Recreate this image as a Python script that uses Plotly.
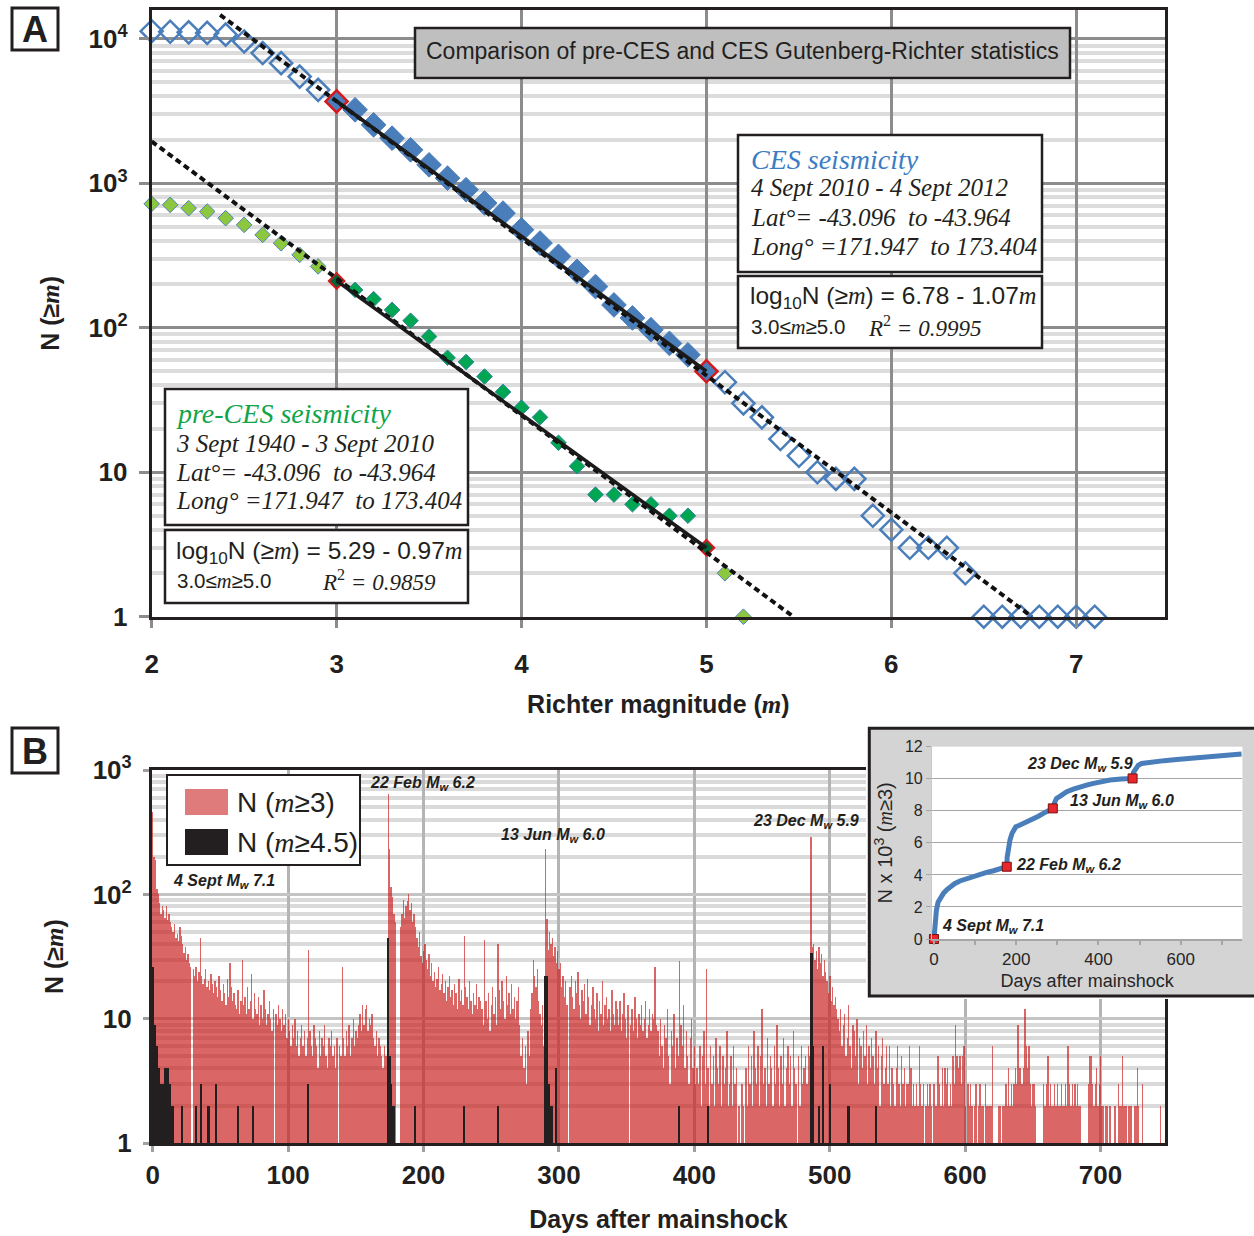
import math
import plotly.graph_objects as go

W, H = 1254, 1236

# ---------------- Panel A : Gutenberg-Richter statistics ----------------
ces_mag = [2.0, 2.1, 2.2, 2.3, 2.4, 2.5, 2.6, 2.7, 2.8, 2.9,
           3.0, 3.1, 3.2, 3.3, 3.4, 3.5, 3.6, 3.7, 3.8, 3.9,
           4.0, 4.1, 4.2, 4.3, 4.4, 4.5, 4.6, 4.7, 4.8, 4.9,
           5.0, 5.1, 5.2, 5.3, 5.4, 5.5, 5.6, 5.7, 5.8, 5.9,
           6.0, 6.1, 6.2, 6.3, 6.4, 6.5, 6.6, 6.7, 6.8, 6.9, 7.0, 7.1]
ces_N = [11300, 11200, 11100, 11000, 10700, 9600, 7980, 6790, 5480, 4440,
         3690, 3230, 2540, 2055, 1706, 1343, 1086, 903, 731, 622,
         477, 386, 312, 246, 193, 144, 117, 97, 78, 65,
         50, 42, 30, 24, 17, 13, 10, 9, 9, 5,
         4, 3, 3, 3, 2, 1, 1, 1, 1, 1, 1, 1]

pre_mag = [2.0, 2.1, 2.2, 2.3, 2.4, 2.5, 2.6, 2.7, 2.8, 2.9,
           3.0, 3.1, 3.2, 3.3, 3.4, 3.5, 3.6, 3.7, 3.8, 3.9,
           4.0, 4.1, 4.2, 4.3, 4.4, 4.5, 4.6, 4.7, 4.8, 4.9,
           5.0, 5.1, 5.2]
pre_N = [721, 710, 673, 638, 574, 516, 440, 385, 320, 266,
         211, 183, 158, 133, 112, 87, 62, 58, 46, 36,
         28, 24, 16, 11, 7, 7, 6, 6, 5, 5,
         3, 2, 1]

# fitted lines
ces_dash_m = [2.37, 6.76]
ces_dash_N = [14650, 1]
ces_fit_m = [3.0, 5.0]
ces_fit_N = [3700, 50]
pre_dash_m = [2.0, 5.47]
pre_dash_N = [1950, 1]
pre_fit_m = [3.0, 5.0]
pre_fit_N = [211, 3]

# ---------------- Panel B : daily counts ----------------
red_counts = (
    [460, 200, 190, 110, 100, 86, 70, 80, 75, 65, 80, 62, 70, 60, 55, 50, 58, 45, 48, 42,
     55, 46, 40, 34, 38, 30, 33, 28, 26, 1]
    + [25, 22, 26, 20, 24, 45, 22, 19, 21, 25, 18, 20, 17, 23, 19, 16]
    + [20, 18, 15, 22, 17, 14, 19, 16, 13, 21, 15, 28, 18, 14, 16, 13, 12, 17, 11, 14]
    + [30, 13, 15, 11, 18, 12, 14, 23, 10, 16, 12, 11, 15, 9, 13, 10, 17, 12, 9, 11,
       14, 10, 8, 12, 1, 11, 9, 13, 10, 8, 12, 9, 11, 7, 10]
    + [8, 6, 9, 7, 10, 6, 8, 5, 7, 9, 6, 8, 5, 7, 36]
    + [8, 6, 5, 9, 7, 6, 4, 8, 5, 7, 6, 9, 5, 4, 7, 6, 8, 5, 6, 4, 7, 1, 6, 5, 26]
    + [7, 5, 8, 6, 9, 5, 7, 10, 6, 8, 7, 9, 11, 8, 13, 9, 12, 13, 8, 10, 9, 11, 7, 6, 8,
       5, 7, 6, 5, 4, 6, 5, 5]
    + [640, 230, 115, 95, 70, 60, 1, 1, 1, 55, 70, 90, 65, 80, 88, 100, 75, 85, 60, 70,
       55, 45, 38, 50, 32, 28, 35]
    + [40, 30, 25, 33, 22, 28, 20, 24, 18, 21, 26, 17, 19, 23, 16, 20, 14, 18, 22, 15,
       17, 13, 19, 16, 12, 21, 14, 17, 13, 46, 18, 15, 12, 20, 14, 11, 16, 13, 19, 12, 15, 14]
    + [12, 9, 43, 14, 10, 16, 8, 13, 18, 11, 15, 9, 40, 17, 12, 20, 14, 10, 22, 13,
       16, 11, 19, 12, 15, 10, 14, 18, 9, 5, 7, 4, 6, 3, 8, 5, 12, 16, 30, 22,
       18, 25, 14, 11, 9, 13, 6]
    + [230, 63, 36, 50, 40, 45, 32, 38, 28, 35, 25, 28, 18, 22, 15, 20, 13, 1]
    + [18, 22, 15, 12, 20, 16, 24, 13, 10, 17, 14, 19, 11, 21, 15, 9, 13, 18, 12, 10,
       16, 8, 14, 11, 20, 9, 13, 15, 10, 12, 8, 17, 11, 9, 14]
    + [12, 9, 14, 8, 11, 16, 10, 7, 13, 1, 9, 12, 8, 15, 10, 7, 11, 9, 13, 8,
       10, 14, 7, 9, 12, 8, 11, 10, 26, 9]
    + [8, 5, 10, 6, 4, 9, 7, 12, 5, 3, 8, 6, 11, 4, 7, 5, 29, 9, 6, 13,
       4, 8, 5, 3, 7, 10, 4, 6, 3]
    + [4, 3, 6, 2, 5, 8, 3, 25, 4, 2, 6, 3, 5, 2, 7, 4, 3, 6, 2, 5,
       3, 4, 8, 2, 3, 5, 2, 6, 3, 4]
    + [1, 2, 1, 3, 2, 1, 4, 2, 6, 3, 5, 2, 8, 4, 3, 6, 2, 5, 12, 3,
       4, 2, 7, 3, 5, 4, 2, 6, 3, 9, 4, 2, 5, 3, 7, 2, 4, 6, 3, 5,
       2, 8, 4, 3, 1, 5, 2, 6, 3, 4, 5, 3, 6]
    + [5, 290, 38, 40, 30, 35, 25, 38, 28, 33, 22, 30, 24, 20, 16, 22, 14, 18, 13, 15, 12]
    + [10, 8, 12, 6, 9, 11, 5, 7, 13, 6, 4, 9, 8, 5, 10, 3, 7, 6, 4, 8,
       5, 9, 3, 6, 4, 7, 5, 3, 8, 4, 6, 2, 5, 7, 3, 4, 6]
    + [3, 6, 2, 4, 3, 2, 4, 6, 3, 2, 5, 3, 4, 2, 3, 3, 6, 4, 2, 3,
       2, 3, 2, 6, 3, 2, 3, 1, 2, 3, 2, 3, 2, 1, 3, 2, 2, 5, 3, 2,
       4, 2, 4, 3, 4, 2, 3, 2, 5, 3, 9, 5, 4, 5, 3, 5, 6, 2, 1, 3,
       2, 3, 2, 1, 2, 3, 1, 2, 3, 2, 2, 1, 3, 2, 2, 2, 2, 6, 1, 1,
       1, 1, 2, 2, 1, 2, 2, 3, 2, 4, 2, 3, 2, 3, 4, 3, 9, 4, 4, 3,
       4, 12, 6, 4, 6, 3, 2, 3, 3, 2, 1, 1, 1, 1, 1, 3, 2, 3, 5, 2,
       3, 2, 2, 3, 2, 3, 2, 2, 3, 2, 2, 3, 2, 6, 3, 2, 3, 2, 3, 2,
       3, 2, 2, 1, 1, 1, 1, 1, 3, 5, 5, 3, 2, 3, 4, 2, 3, 5, 2, 2,
       1, 2, 2, 1, 2, 1, 1, 2, 2, 1, 3, 2, 2, 5, 2, 2, 2, 1, 2, 2,
       2, 1, 2, 2, 4, 2, 1, 1, 3, 1, 1, 1, 1, 1, 1, 1, 1, 1, 1, 1,
       1, 2, 1]
)
red_days = list(range(len(red_counts)))

black_days = [0, 1, 2, 3, 4, 5, 6, 7, 8, 9, 10, 11, 12, 13, 14, 15,
              22, 32, 36, 41, 42, 47, 63, 74, 115,
              174, 175, 176, 177, 178, 194, 230, 255,
              290, 291, 292, 293, 294, 295, 298, 389, 410,
              486, 487, 488, 492, 495, 500, 514, 534]
black_counts = [26, 9, 9, 6, 4, 4, 3, 3, 3, 4, 4, 4, 3, 3, 2, 2,
                2, 2, 3, 2, 2, 3, 2, 2, 3,
                45, 5, 3, 2, 2, 2, 2, 2,
                22, 22, 3, 3, 2, 2, 4, 2, 2,
                34, 34, 6, 2, 6, 3, 2, 2]

# inset : cumulative number (x 10^3)
inset_days = [0, 1, 3, 6, 10, 16, 23, 31, 39, 50, 63, 80, 96, 112, 128, 145, 161, 177,
              178, 181, 185, 190, 199, 208, 217, 230, 242, 254, 266, 278, 289,
              293, 298, 306, 323, 339, 355, 371, 388, 408, 428, 455, 483,
              485, 490, 497, 505, 520, 534, 560, 590, 630, 671, 710, 748]
inset_cum = [0, 0.6, 1.2, 1.8, 2.3, 2.6, 2.85, 3.07, 3.26, 3.45, 3.62, 3.78, 3.93, 4.05,
             4.16, 4.26, 4.35, 4.51,
             5.1, 5.7, 6.2, 6.6, 7.0, 7.1, 7.2, 7.34, 7.48, 7.66, 7.84, 8.0, 8.15,
             8.5, 8.77, 8.9, 9.19, 9.35, 9.5, 9.6, 9.71, 9.82, 9.92, 9.98, 10.02,
             10.4, 10.65, 10.85, 10.95, 11.02, 11.06, 11.13, 11.2, 11.3, 11.4, 11.48, 11.55]
event_days = [0, 177, 289, 483]
event_cum = [0, 4.51, 8.15, 10.02]

# ---------------- helpers ----------------
def px(x):
    return x / W

def py(y):
    return 1 - y / H

DARK = '#231f20'
BLUE = '#4a7ebb'
RED = '#d7191c'
SERIF = 'Liberation Serif'
SANS = 'Liberation Sans'

fig = go.Figure()

# ---- Panel A markers ----
open_m = [m for m in ces_mag if m < 3 or m > 5]
open_N = [n for m, n in zip(ces_mag, ces_N) if m < 3 or m > 5]
fill_m = [m for m in ces_mag if 3 < m < 5]
fill_N = [n for m, n in zip(ces_mag, ces_N) if 3 < m < 5]
hl_m = [m for m in ces_mag if m in (3.0, 5.0)]
hl_N = [n for m, n in zip(ces_mag, ces_N) if m in (3.0, 5.0)]

fig.add_trace(go.Scatter(x=open_m, y=open_N, mode='markers', cliponaxis=False,
                         marker=dict(symbol='diamond-open', size=17, color=BLUE,
                                     line=dict(width=2.5, color=BLUE))))
fig.add_trace(go.Scatter(x=fill_m, y=fill_N, mode='markers',
                         marker=dict(symbol='diamond', size=19, color=BLUE,
                                     line=dict(width=1, color=BLUE))))
fig.add_trace(go.Scatter(x=hl_m, y=hl_N, mode='markers',
                         marker=dict(symbol='diamond', size=17, color=BLUE,
                                     line=dict(width=2.5, color=RED))))

p_light_m = [m for m in pre_mag if m < 3 or m > 5]
p_light_N = [n for m, n in zip(pre_mag, pre_N) if m < 3 or m > 5]
p_mid_m = [m for m in pre_mag if 3 < m < 5]
p_mid_N = [n for m, n in zip(pre_mag, pre_N) if 3 < m < 5]
p_hl_m = [m for m in pre_mag if m in (3.0, 5.0)]
p_hl_N = [n for m, n in zip(pre_mag, pre_N) if m in (3.0, 5.0)]

fig.add_trace(go.Scatter(x=p_light_m, y=p_light_N, mode='markers', cliponaxis=False,
                         marker=dict(symbol='diamond', size=12, color='#8dc63f',
                                     line=dict(width=1, color='#4f81bd'))))
fig.add_trace(go.Scatter(x=p_mid_m, y=p_mid_N, mode='markers',
                         marker=dict(symbol='diamond', size=12, color='#00a651',
                                     line=dict(width=1, color='#31859c'))))
fig.add_trace(go.Scatter(x=p_hl_m, y=p_hl_N, mode='markers',
                         marker=dict(symbol='diamond', size=12, color='#006837',
                                     line=dict(width=2, color=RED))))

# ---- Panel A lines ----
for xm, yn in [(ces_dash_m, ces_dash_N), (pre_dash_m, pre_dash_N)]:
    fig.add_trace(go.Scatter(x=xm, y=yn, mode='lines',
                             line=dict(color='#111111', width=4, dash='6px,4px')))
for xm, yn in [(ces_fit_m, ces_fit_N), (pre_fit_m, pre_fit_N)]:
    fig.add_trace(go.Scatter(x=xm, y=yn, mode='lines',
                             line=dict(color='#1a1a1a', width=3.5)))

# ---- Panel B bars ----
fig.add_trace(go.Bar(x=red_days, y=red_counts, xaxis='x2', yaxis='y2', width=1,
                     marker=dict(color='rgba(200,30,30,0.68)', line=dict(width=0))))
fig.add_trace(go.Bar(x=black_days, y=black_counts, xaxis='x2', yaxis='y2', width=1.2,
                     marker=dict(color=DARK, line=dict(width=0))))

# ---- gray box subplot for the inset frame ----
fig.add_trace(go.Scatter(x=[900], y=[900], xaxis='x3', yaxis='y3', mode='markers',
                         marker=dict(opacity=0), hoverinfo='skip'))

# ---- inset ----
fig.add_trace(go.Scatter(x=inset_days, y=inset_cum, xaxis='x4', yaxis='y4', mode='lines',
                         cliponaxis=False, line=dict(color=BLUE, width=5)))
fig.add_trace(go.Scatter(x=event_days, y=event_cum, xaxis='x4', yaxis='y4', mode='markers',
                         cliponaxis=False,
                         marker=dict(symbol='square', size=9, color='#e8262b',
                                     line=dict(width=1, color='#7a1010'))))

# ---------------- axes ----------------
tickfont_big = dict(family=SANS, size=26, color=DARK, weight='bold')
m_serif = "<span style='font-family:Liberation Serif'><i>m</i></span>"

minorA = [v * d for d in (1, 10, 100, 1000, 10000) for v in range(2, 10)]
minorB = [v * d for d in (1, 10, 100) for v in range(2, 10)]

fig.update_layout(
    width=W, height=H, autosize=False,
    margin=dict(l=0, r=0, t=0, b=0),
    paper_bgcolor='white', plot_bgcolor='white',
    showlegend=False, barmode='overlay', bargap=0,
    xaxis=dict(domain=[px(151.7), px(1165)], anchor='y', range=[2, 7.48],
               tickvals=[2, 3, 4, 5, 6, 7], showgrid=True, gridcolor='#8c8c8c', gridwidth=2.5,
               showline=True, mirror=True, linecolor=DARK, linewidth=3, zeroline=False,
               ticks='outside', ticklen=8, tickwidth=2.5, tickcolor='#8c8c8c',
               tickfont=tickfont_big, ticklabelstandoff=14, automargin=False,
               title=dict(text='Richter magnitude (' + m_serif + ')', standoff=18,
                          font=dict(family=SANS, size=25, color=DARK, weight='bold'))),
    yaxis=dict(domain=[py(616.7), py(10)], anchor='x', type='log', range=[0, 4.2],
               tickvals=[1, 10, 100, 1000, 10000],
               ticktext=['1', '10', '10<sup>2</sup>', '10<sup>3</sup>', '10<sup>4</sup>'],
               showgrid=True, gridcolor='#8c8c8c', gridwidth=2.5,
               minor=dict(tickvals=minorA, showgrid=True, gridcolor='#dcdcdc', gridwidth=4,
                          ticks=''),
               showline=True, mirror=True, linecolor=DARK, linewidth=3, zeroline=False,
               ticks='outside', ticklen=10, tickwidth=2.5, tickcolor='#8c8c8c',
               tickfont=tickfont_big, ticklabelstandoff=6, automargin=False,
               title=dict(text='N (≥' + m_serif + ')', standoff=22,
                          font=dict(family=SANS, size=25, color=DARK, weight='bold'))),
    xaxis2=dict(domain=[px(151.9), px(1165)], anchor='y2', range=[-0.6, 747.6],
                tickvals=[0, 100, 200, 300, 400, 500, 600, 700],
                showgrid=True, gridcolor='#b4b4b4', gridwidth=3,
                showline=True, mirror=True, linecolor=DARK, linewidth=3, zeroline=False,
                ticks='outside', ticklen=6, tickwidth=2.5, tickcolor='#a0a0a0',
                tickfont=tickfont_big, ticklabelstandoff=0, automargin=False,
                title=dict(text='Days after mainshock', standoff=22,
                           font=dict(family=SANS, size=25, color=DARK, weight='bold'))),
    yaxis2=dict(domain=[py(1143.3), py(770)], anchor='x2', type='log', range=[0, 3],
                tickvals=[1, 10, 100, 1000],
                ticktext=['1', '10', '10<sup>2</sup>', '10<sup>3</sup>'],
                showgrid=True, gridcolor='#c4c4c4', gridwidth=3,
                minor=dict(tickvals=minorB, showgrid=True, gridcolor='#dadada', gridwidth=3.5,
                           ticks=''),
                showline=True, mirror=True, linecolor=DARK, linewidth=3, zeroline=False,
                ticks='outside', ticklen=6, tickwidth=2.5, tickcolor='#a0a0a0',
                tickfont=tickfont_big, ticklabelstandoff=6, automargin=False,
                title=dict(text='N (≥' + m_serif + ')', standoff=22,
                           font=dict(family=SANS, size=25, color=DARK, weight='bold'))),
    xaxis3=dict(domain=[px(866), 1.0], anchor='y3', range=[866, 1254], visible=False,
                fixedrange=True),
    yaxis3=dict(domain=[py(999), py(725)], anchor='x3', range=[999, 725], visible=False,
                fixedrange=True),
    xaxis4=dict(domain=[px(931.9), px(1242.4)], anchor='y4', range=[-5, 750],
                tickvals=[0, 200, 400, 600], showgrid=False, zeroline=False,
                showline=True, linecolor='#a6a6a6', linewidth=2,
                ticks='outside', ticklen=4, tickcolor='#a6a6a6', tickwidth=1.5,
                minor=dict(dtick=100, ticks='outside', ticklen=4, tickcolor='#a6a6a6'),
                tickfont=dict(family=SANS, size=17, color='#262626'), automargin=False,
                title=dict(text='Days after mainshock', standoff=6,
                           font=dict(family=SANS, size=18, color='#262626'))),
    yaxis4=dict(domain=[py(939), py(746.7)], anchor='x4', range=[0, 12], dtick=2,
                showgrid=True, gridcolor='#a6a6a6', gridwidth=1.2, zeroline=False,
                showline=True, linecolor='#c8c8c8', linewidth=1,
                ticks='outside', ticklen=5, tickcolor='#a6a6a6',
                tickfont=dict(family=SANS, size=16, color='#262626'), automargin=False,
                title=dict(text='N x 10<sup>3</sup> (' + m_serif + '≥3)', standoff=6,
                           font=dict(family=SANS, size=20, color='#262626'))),
)

# ---------------- shapes ----------------
def box(x0, y0, x1, y1, fill='white', lw=2.5):
    fig.add_shape(type='rect', xref='paper', yref='paper',
                  x0=px(x0), x1=px(x1), y0=py(y1), y1=py(y0),
                  fillcolor=fill, line=dict(color=DARK, width=lw), layer='above')

# inset gray frame (drawn inside its own overlay subplot)
fig.add_shape(type='rect', xref='x3', yref='y3', x0=869.3, x1=1262, y0=996, y1=728.3,
              fillcolor='#d4d4d4', line=dict(color=DARK, width=3), layer='below')

box(12, 8, 58, 50, lw=3)          # A label
box(12, 728, 58, 773, lw=3)       # B label
box(415, 28, 1070, 78, fill='#bfbfbf', lw=2.5)   # title
box(738, 135, 1042, 272)          # CES box
box(738, 276, 1042, 348)          # CES eq
box(165, 389, 468, 525)           # pre-CES box
box(165, 530, 468, 603)           # pre-CES eq
box(167, 775, 360, 865, lw=2)     # legend
fig.add_shape(type='rect', xref='paper', yref='paper', x0=px(185), x1=px(228),
              y0=py(815), y1=py(789), fillcolor='#e07b7b', line=dict(width=0), layer='above')
fig.add_shape(type='rect', xref='paper', yref='paper', x0=px(185), x1=px(228),
              y0=py(855), y1=py(829), fillcolor=DARK, line=dict(width=0), layer='above')

# ---------------- texts ----------------
def txt(x, y, text, size, color=DARK, family=SANS, xanchor='left', weight='normal'):
    fig.add_annotation(x=px(x), y=py(y), xref='paper', yref='paper', text=text,
                       showarrow=False, xanchor=xanchor, yanchor='middle',
                       font=dict(family=family, size=size, color=color, weight=weight))

txt(35, 29, 'A', 36, xanchor='center', weight='bold')
txt(35, 751, 'B', 36, xanchor='center', weight='bold')
txt(742, 51, 'Comparison of pre-CES and CES Gutenberg-Richter statistics', 23,
    xanchor='center')

txt(749, 159, '<i>CES seismicity</i>', 28, color='#3a7dc4', family=SERIF)
txt(749, 188, '<i>4 Sept 2010 - 4 Sept 2012</i>', 25, family=SERIF)
txt(749, 218, '<i>Lat°= -43.096  to -43.964</i>', 25, family=SERIF)
txt(749, 247, '<i>Long° =171.947  to 173.404</i>', 25, family=SERIF)
txt(748, 298, 'log<sub>10</sub>N (≥' + m_serif + ') = 6.78 - 1.07' + m_serif, 24.5)
txt(749, 326, '3.0≤' + m_serif + '≥5.0', 20.5)
txt(866, 326, '<i>R</i><sup>2</sup><i> = 0.9995</i>', 23, family=SERIF)

txt(174, 413, '<i>pre-CES seismicity</i>', 28, color='#10a54a', family=SERIF)
txt(174, 443, '<i>3 Sept 1940 - 3 Sept 2010</i>', 25, family=SERIF)
txt(174, 472, '<i>Lat°= -43.096  to -43.964</i>', 25, family=SERIF)
txt(174, 501, '<i>Long° =171.947  to 173.404</i>', 25, family=SERIF)
txt(174, 552, 'log<sub>10</sub>N (≥' + m_serif + ') = 5.29 - 0.97' + m_serif, 24.5)
txt(175, 580, '3.0≤' + m_serif + '≥5.0', 20.5)
txt(320, 580, '<i>R</i><sup>2</sup><i> = 0.9859</i>', 23, family=SERIF)

txt(235, 802, 'N (' + m_serif + '≥3)', 28)
txt(235, 842, 'N (' + m_serif + '≥4.5)', 28)

# event labels panel B (data coordinates)
ev_font = dict(family=SANS, size=16, color=DARK, weight='bold')
for d, v, t in [(13.4, 126, '4 Sept M<sub>w</sub> 7.1'),
                (158.8, 773, '22 Feb M<sub>w</sub> 6.2'),
                (255.6, 295, '13 Jun M<sub>w</sub> 6.0'),
                (441.7, 384, '23 Dec M<sub>w</sub> 5.9')]:
    fig.add_annotation(x=d, y=math.log10(v), xref='x2', yref='y2',
                       text='<i>' + t + '</i>', showarrow=False, xanchor='left',
                       yanchor='middle', font=ev_font)

# event labels inset
for d, v, t in [(14.6, 0.81, '4 Sept M<sub>w</sub> 7.1'),
                (194.6, 4.56, '22 Feb M<sub>w</sub> 6.2'),
                (326, 8.6, '13 Jun M<sub>w</sub> 6.0'),
                (221, 10.86, '23 Dec M<sub>w</sub> 5.9')]:
    fig.add_annotation(x=d, y=v, xref='x4', yref='y4', text='<i>' + t + '</i>',
                       showarrow=False, xanchor='left', yanchor='middle', font=ev_font)

fig.write_html('out.html', config={'displayModeBar': False},
               post_script="document.body.style.margin='0';")
